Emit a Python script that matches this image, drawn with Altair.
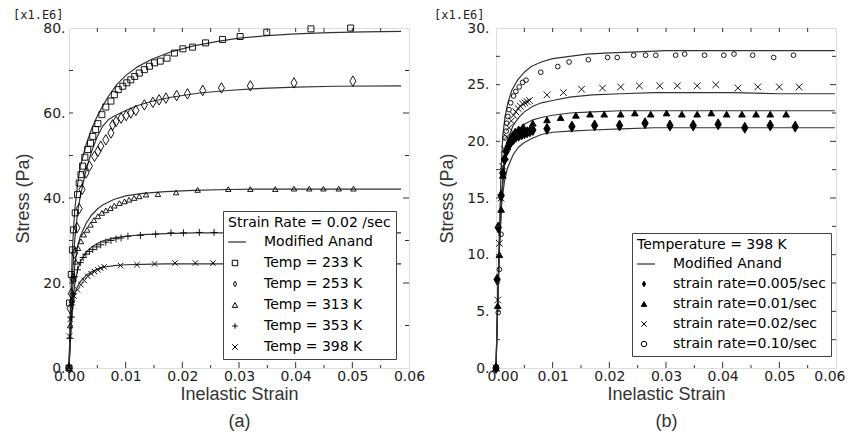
import altair as alt
import pandas as pd

# ---------------- Panel (a): strain rate 0.02 /sec, stress in MPa ----------------
a233_strain = [0, 0.0001, 0.0004, 0.0006, 0.0008, 0.0011, 0.0015, 0.0018, 0.0021, 0.0024, 0.0028, 0.0033,
               0.0038, 0.0042, 0.0047, 0.0051, 0.0058, 0.0065, 0.0074, 0.0080, 0.0087, 0.0095, 0.0102, 0.0109,
               0.0116, 0.0124, 0.0133, 0.0142, 0.0151, 0.0161, 0.0173, 0.0186, 0.0201, 0.0218, 0.0241, 0.0271,
               0.0302, 0.0349, 0.0427, 0.0497]
a233_stress = [0, 15.3, 22.0, 27.8, 32.5, 36.5, 40.8, 43.5, 45.5, 47.5, 49.6, 51.4,
               52.9, 54.5, 56.1, 57.5, 59.6, 61.4, 62.8, 64.3, 65.5, 66.3, 67.1, 67.8,
               68.6, 69.4, 70.2, 71.0, 71.8, 72.2, 72.9, 74.1, 75.1, 75.5, 76.5, 77.3,
               78.0, 79.0, 79.8, 80.0]
a253_strain = [0, 0.0002, 0.0004, 0.0007, 0.0010, 0.0014, 0.0018, 0.0023, 0.0030, 0.0036, 0.0045, 0.0051,
               0.0056, 0.0065, 0.0074, 0.0077, 0.0083, 0.0092, 0.0101, 0.0109, 0.0118, 0.0133, 0.0148, 0.0159,
               0.0171, 0.0190, 0.0209, 0.0236, 0.0269, 0.0320, 0.0397, 0.0501]
a253_stress = [0, 14, 17.5, 21, 27, 33, 37.5, 42, 45.9, 47.5, 49.8, 51.0,
               52.2, 53.7, 55.3, 57.2, 58.0, 58.8, 59.4, 60.0, 60.6, 61.9, 62.5, 63.1,
               63.5, 64.1, 64.5, 65.3, 65.9, 66.4, 67.1, 67.5]
a313_strain = [0, 0.0002, 0.0005, 0.0008, 0.0012, 0.0016, 0.0021, 0.0026, 0.0032, 0.0038, 0.0044, 0.0051,
               0.0058, 0.0065, 0.0073, 0.0080, 0.0089, 0.0098, 0.0106, 0.0115, 0.0124, 0.0136, 0.0157, 0.0189,
               0.0227, 0.0281, 0.0320, 0.0364, 0.0397, 0.0424, 0.0449, 0.0476, 0.0502]
a313_stress = [0, 10, 16, 21, 25, 28.2, 29.8, 31.4, 32.5, 33.7, 34.8, 35.7,
               36.5, 37.1, 37.6, 38.2, 38.8, 39.2, 39.6, 40.0, 40.4, 40.8, 40.9, 41.3,
               41.9, 42.1, 42.1, 42.1, 42.2, 42.2, 42.2, 42.2, 42.2]
a353_strain = [0, 0.0002, 0.0004, 0.0007, 0.0010, 0.0015, 0.0020, 0.0025, 0.0030, 0.0036, 0.0042, 0.0049,
               0.0056, 0.0065, 0.0074, 0.0083, 0.0092, 0.0104, 0.0126, 0.0153, 0.0180, 0.0202, 0.0230, 0.0256]
a353_stress = [0, 7, 12, 17.5, 21.5, 23.1, 24.8, 26.0, 26.8, 27.4, 27.9, 28.5,
               29.0, 29.6, 30.0, 30.4, 30.6, 31.0, 31.2, 31.5, 31.8, 31.8, 31.9, 31.9]
a398_strain = [0, 0.0001, 0.0002, 0.0006, 0.0009, 0.0015, 0.0021, 0.0027, 0.0033, 0.0039, 0.0045, 0.0051,
               0.0056, 0.0062, 0.0091, 0.0120, 0.0151, 0.0187, 0.0223, 0.0254]
a398_stress = [0, 7.5, 11.4, 15.3, 16.9, 18.4, 19.6, 20.6, 21.6, 22.2, 22.7, 23.1,
               23.5, 23.8, 24.1, 24.3, 24.5, 24.7, 24.7, 24.7]

# Modified Anand model curves, panel (a)
am233_strain = [0, 0.0003, 0.0006, 0.001, 0.0015, 0.002, 0.003, 0.004, 0.005, 0.006, 0.007, 0.0085,
                0.010, 0.012, 0.0145, 0.018, 0.022, 0.026, 0.030, 0.035, 0.040, 0.046, 0.052, 0.0586]
am233_stress = [0, 16, 28, 37, 43, 47.5, 52.5, 56.3, 59.3, 61.8, 64.0, 66.8,
                68.8, 70.8, 72.6, 74.4, 75.8, 76.8, 77.6, 78.2, 78.6, 78.9, 79.1, 79.2]
am253_strain = [0, 0.0003, 0.0006, 0.001, 0.0015, 0.002, 0.003, 0.004, 0.005, 0.006, 0.007,
                0.008, 0.010, 0.012, 0.0145, 0.018, 0.023, 0.028, 0.034, 0.040, 0.047, 0.0586]
am253_stress = [0, 14, 22, 30, 36.5, 40.5, 46.5, 51, 54.5, 57, 58.5,
                59.3, 60.6, 61.7, 62.7, 63.7, 64.7, 65.3, 65.8, 66.1, 66.3, 66.4]
am_strain = [0, 0.0003, 0.0006, 0.001, 0.0015, 0.002, 0.003, 0.004, 0.005, 0.006, 0.008, 0.010,
             0.013, 0.017, 0.022, 0.028, 0.035, 0.045, 0.0586]
am313_stress = [0, 11, 18, 24, 28.5, 31, 34, 36, 37.4, 38.4, 39.7, 40.5,
                41.1, 41.5, 41.8, 42.0, 42.1, 42.1, 42.1]
am353_stress = [0, 8, 14, 19.5, 23, 25, 27.2, 28.5, 29.3, 29.9, 30.6, 31.0,
                31.4, 31.6, 31.8, 31.8, 31.8, 31.8, 31.8]
am398_stress = [0, 8, 13.5, 17.5, 19.2, 20.3, 21.8, 22.7, 23.3, 23.7, 24.1, 24.3,
                24.4, 24.5, 24.5, 24.5, 24.5, 24.5, 24.5]

# ---------------- Panel (b): temperature 398 K, stress in MPa ----------------
b005_strain = [0, 0.0002, 0.0004, 0.0009, 0.0012, 0.0015, 0.0018, 0.0021, 0.0024, 0.0027, 0.0031, 0.0035,
               0.0040, 0.0045, 0.0050, 0.0055, 0.0060, 0.0065, 0.0090, 0.0134, 0.0174, 0.0218, 0.0263,
               0.0307, 0.0348, 0.0392, 0.0439, 0.0484, 0.0528]
b005_stress = [0, 7.8, 12.4, 15.2, 17.2, 18.4, 19.1, 19.5, 19.8, 20.0, 20.2, 20.4,
               20.5, 20.6, 20.7, 20.8, 20.9, 21.0, 21.1, 21.3, 21.4, 21.4, 21.6,
               21.4, 21.4, 21.5, 21.2, 21.4, 21.3]
b01_strain = [0, 0.0003, 0.0006, 0.0009, 0.0012, 0.0016, 0.0020, 0.0024, 0.0029, 0.0034, 0.0040, 0.0048,
              0.0065, 0.0090, 0.0114, 0.0141, 0.0166, 0.0191, 0.0220, 0.0245, 0.0273, 0.0301, 0.0328,
              0.0355, 0.0380, 0.0407, 0.0434, 0.0459, 0.0484, 0.0512]
b01_stress = [0, 5.5, 10, 14, 17, 18.6, 19.5, 20.1, 20.6, 20.9, 21.1, 21.3,
              21.6, 21.9, 22.1, 22.3, 22.4, 22.4, 22.4, 22.5, 22.4, 22.5, 22.4,
              22.4, 22.5, 22.4, 22.4, 22.4, 22.4, 22.4]
b02_strain = [0, 0.0003, 0.0006, 0.0009, 0.0012, 0.0015, 0.0019, 0.0023, 0.0027, 0.0031, 0.0035, 0.0039,
              0.0043, 0.0047, 0.0051, 0.0055, 0.0059, 0.0090, 0.0119, 0.0151, 0.0188, 0.0220, 0.0253,
              0.0289, 0.0320, 0.0355, 0.0388, 0.0427, 0.0462, 0.0500, 0.0535]
b02_stress = [0, 6, 11, 15, 17.8, 19.3, 20.4, 21.2, 21.8, 22.3, 22.6, 22.9,
              23.1, 23.3, 23.4, 23.5, 23.6, 24.1, 24.3, 24.6, 24.7, 24.8, 24.9,
              24.9, 24.9, 24.9, 25.0, 24.7, 24.8, 24.8, 24.8]
b10_strain = [0, 0.0004, 0.0006, 0.0009, 0.0016, 0.0018, 0.0019, 0.0021, 0.0023, 0.0026, 0.0031, 0.0035,
              0.0041, 0.0047, 0.0053, 0.0079, 0.0109, 0.0129, 0.0163, 0.0197, 0.0214, 0.0243, 0.0264,
              0.0282, 0.0317, 0.0333, 0.0368, 0.0402, 0.0420, 0.0453, 0.0490, 0.0525]
b10_stress = [0, 4.9, 8.7, 11.8, 20.3, 20.9, 21.6, 22.2, 22.8, 23.4, 24.0, 24.4,
              24.8, 25.2, 25.4, 26.1, 26.6, 27.0, 27.2, 27.4, 27.4, 27.6, 27.6,
              27.6, 27.6, 27.7, 27.6, 27.6, 27.7, 27.6, 27.4, 27.6]

# Modified Anand model curves, panel (b)
bm_strain = [0, 0.0003, 0.0006, 0.001, 0.0015, 0.002, 0.003, 0.004, 0.005, 0.0065, 0.008, 0.010,
             0.013, 0.017, 0.022, 0.028, 0.035, 0.042, 0.050, 0.0598]
bm005_stress = [0, 5.5, 10.5, 14.5, 16.5, 17.6, 18.8, 19.5, 19.9, 20.3, 20.6, 20.8,
                20.9, 21.0, 21.1, 21.2, 21.2, 21.2, 21.2, 21.2]
bm01_stress = [0, 5.5, 10.5, 15, 17.8, 19.3, 20.5, 21.1, 21.5, 21.9, 22.1, 22.3,
               22.5, 22.6, 22.7, 22.7, 22.7, 22.7, 22.7, 22.7]
bm02_stress = [0, 6, 11, 15.5, 18.5, 20, 21.4, 22.1, 22.6, 23.1, 23.4, 23.6,
               23.9, 24.1, 24.2, 24.3, 24.3, 24.3, 24.2, 24.2]
bm10_strain = [0, 0.0003, 0.0006, 0.0009, 0.0012, 0.0016, 0.0021, 0.0028, 0.0038, 0.005, 0.0062, 0.008,
               0.010, 0.013, 0.016, 0.020, 0.025, 0.030, 0.040, 0.050, 0.0598]
bm10_stress = [0, 6, 12, 17.5, 20.5, 22.2, 23.4, 24.5, 25.4, 26.1, 26.6, 27.0,
               27.3, 27.5, 27.7, 27.8, 27.9, 28.0, 28.0, 28.0, 28.0]

# axis values / ticks
a_y_labels = [0, 20, 40, 60, 80]
a_y_ticks_major = [20, 40, 60]
a_y_ticks_minor = [10, 30, 50, 70]
b_y_labels = [0, 5, 10, 15, 20, 25, 30]
b_y_ticks_major = [5, 10, 15, 20, 25]
b_y_ticks_minor = [2.5, 7.5, 12.5, 17.5, 22.5, 27.5]
x_labels = [0.0, 0.01, 0.02, 0.03, 0.04, 0.05, 0.06]
x_ticks_major = [0.01, 0.02, 0.03, 0.04, 0.05]
x_ticks_minor = [0.005, 0.015, 0.025, 0.035, 0.045, 0.055]

a_series = ["Modified Anand", "Temp = 233 K", "Temp = 253 K", "Temp = 313 K", "Temp = 353 K", "Temp = 398 K"]
b_series = ["Modified Anand", "strain rate=0.005/sec", "strain rate=0.01/sec",
            "strain rate=0.02/sec", "strain rate=0.10/sec"]

W = 340
H = 340
LINE_COLOR = "#333333"


def to_df(groups, sizes=None):
    rows = []
    for name, xs, ys in groups:
        for x, y in zip(xs, ys):
            r = {"series": name, "strain": x, "stress": y}
            if sizes is not None:
                r["sz"] = sizes[name]
            rows.append(r)
    return pd.DataFrame(rows)


def tick_layers(ymaj, ymin, xdom, ydom):
    xsc = alt.Scale(domain=xdom, nice=False, zero=False)
    ysc = alt.Scale(domain=ydom, nice=False, zero=False)
    all_x = pd.DataFrame({"v": x_ticks_major + x_ticks_minor})
    all_y = pd.DataFrame({"v": ymaj + ymin})
    rule = dict(color="#333", strokeWidth=1)
    return [
        alt.Chart(pd.DataFrame({"v": x_ticks_major})).mark_rule(**rule).encode(
            x=alt.X("v:Q", scale=xsc), y=alt.value(H), y2=alt.value(H - 6)),
        alt.Chart(pd.DataFrame({"v": x_ticks_minor})).mark_rule(**rule).encode(
            x=alt.X("v:Q", scale=xsc), y=alt.value(H), y2=alt.value(H - 3)),
        alt.Chart(all_x).mark_rule(**rule).encode(
            x=alt.X("v:Q", scale=xsc), y=alt.value(0), y2=alt.value(4)),
        alt.Chart(all_y).mark_rule(**rule).encode(
            y=alt.Y("v:Q", scale=ysc), x=alt.value(0), x2=alt.value(4)),
        alt.Chart(pd.DataFrame({"v": ymaj})).mark_rule(**rule).encode(
            y=alt.Y("v:Q", scale=ysc), x=alt.value(W), x2=alt.value(W - 6)),
        alt.Chart(pd.DataFrame({"v": ymin})).mark_rule(**rule).encode(
            y=alt.Y("v:Q", scale=ysc), x=alt.value(W), x2=alt.value(W - 4)),
    ]


def panel(points, lines, series, shapes, fills, ydom, ylabels, ymaj, ymin, legend_title,
          lx, ly_, row_pad, caption, label_pad, mult_dx, flush_x):
    xdom = [0, 0.06]
    xsc = alt.Scale(domain=xdom, nice=False, zero=False)
    ysc = alt.Scale(domain=ydom, nice=False, zero=False)
    xaxis_kw = dict(values=x_labels, format=".2f", ticks=False, domain=False, grid=False,
                    labelFont="DejaVu Sans", labelFontSize=14, labelColor="#222", labelPadding=1,
                    labelOverlap=False,
                    title=["Inelastic Strain", caption], titleFont="Liberation Sans", titleFontSize=18,
                    titleFontWeight="normal", titleColor="#333", titlePadding=2, titleLineHeight=27)
    if flush_x:
        xaxis_kw.update(labelFlush=True, labelFlushOffset=9)
    else:
        xaxis_kw.update(labelFlush=False)
    xaxis = alt.Axis(**xaxis_kw)
    yaxis = alt.Axis(values=ylabels, labelExpr="datum.value + '.'", ticks=False, domain=False, grid=False,
                     labelFont="DejaVu Sans", labelFontSize=14, labelColor="#222", labelPadding=label_pad,
                     labelFlush=False, labelOverlap=False,
                     title="Stress (Pa)", titleFont="Liberation Sans", titleFontSize=18,
                     titleFontWeight="normal", titleColor="#333", titlePadding=10)
    legend = alt.Legend(orient="none", legendX=lx, legendY=ly_, title=legend_title,
                        fillColor="white", strokeColor="#444", padding=5, cornerRadius=0,
                        titleFont="DejaVu Sans", titleFontSize=14, titleFontWeight="normal",
                        titleColor="black", titlePadding=5, titleLimit=400,
                        labelFont="DejaVu Sans", labelFontSize=14, labelColor="black",
                        labelOffset=22, labelLimit=400, rowPadding=row_pad,
                        symbolSize=30, symbolStrokeWidth=1)
    line_layer = alt.Chart(lines).mark_line(color=LINE_COLOR, strokeWidth=1.2).encode(
        x=alt.X("strain:Q", scale=xsc, axis=xaxis),
        y=alt.Y("stress:Q", scale=ysc, axis=yaxis),
        detail="series:N",
        order="strain:Q",
    )
    point_layer = alt.Chart(points).mark_point(filled=False, strokeWidth=0.9, opacity=1).encode(
        x=alt.X("strain:Q", scale=xsc),
        y=alt.Y("stress:Q", scale=ysc),
        shape=alt.Shape("series:N", scale=alt.Scale(domain=series, range=shapes), legend=legend),
        fill=alt.Fill("series:N", scale=alt.Scale(domain=series, range=fills), legend=legend),
        stroke=alt.Stroke("series:N", scale=alt.Scale(domain=series, range=["black"] * len(series)),
                          legend=legend),
        size=alt.Size("sz:Q", scale=None),
    )
    mult = alt.Chart(pd.DataFrame({"t": ["[x1.E6]"]})).mark_text(
        align="left", baseline="alphabetic", font="DejaVu Sans Mono", fontSize=12, color="#222"
    ).encode(text="t:N", x=alt.value(mult_dx), y=alt.value(-9))
    ticks = tick_layers(ymaj, ymin, xdom, ydom)
    return alt.layer(line_layer, point_layer, mult, *ticks).properties(width=W, height=H)


a_sizes = {"Temp = 233 K": 36, "Temp = 253 K": 110, "Temp = 313 K": 30, "Temp = 353 K": 49, "Temp = 398 K": 30}
b_sizes = {"strain rate=0.005/sec": 121, "strain rate=0.01/sec": 45, "strain rate=0.02/sec": 45,
           "strain rate=0.10/sec": 22}

a_points = to_df([
    ("Temp = 233 K", a233_strain, a233_stress),
    ("Temp = 253 K", a253_strain, a253_stress),
    ("Temp = 313 K", a313_strain, a313_stress),
    ("Temp = 353 K", a353_strain, a353_stress),
    ("Temp = 398 K", a398_strain, a398_stress),
], a_sizes)
a_lines = to_df([
    ("233", am233_strain, am233_stress),
    ("253", am253_strain, am253_stress),
    ("313", am_strain, am313_stress),
    ("353", am_strain, am353_stress),
    ("398", am_strain, am398_stress),
])
b_points = to_df([
    ("strain rate=0.005/sec", b005_strain, b005_stress),
    ("strain rate=0.01/sec", b01_strain, b01_stress),
    ("strain rate=0.02/sec", b02_strain, b02_stress),
    ("strain rate=0.10/sec", b10_strain, b10_stress),
], b_sizes)
b_lines = to_df([
    ("0.005", bm_strain, bm005_stress),
    ("0.01", bm_strain, bm01_stress),
    ("0.02", bm_strain, bm02_stress),
    ("0.10", bm10_strain, bm10_stress),
])

LEG_LINE = "M-2.5,0L4,0"
PLUS = "M-1,0L1,0M0,-1L0,1"
XMARK = "M-1,-1L1,1M-1,1L1,-1"
TALL_DIAMOND = "M0,-1L0.58,0L0,1L-0.58,0Z"

left = panel(a_points, a_lines, a_series,
             [LEG_LINE, "square", TALL_DIAMOND, "triangle-up", PLUS, XMARK],
             ["transparent"] * 6,
             [0, 80], a_y_labels, a_y_ticks_major, a_y_ticks_minor,
             "Strain Rate = 0.02 /sec", 154, 183, 7, "(a)", 4, -56, False)
right = panel(b_points, b_lines, b_series,
              [LEG_LINE, TALL_DIAMOND, "triangle-up", XMARK, "circle"],
              ["transparent", "black", "black", "transparent", "transparent"],
              [0, 30], b_y_labels, b_y_ticks_major, b_y_ticks_minor,
              "Temperature = 398 K", 136, 205, 6, "(b)", 7, -62, True)

chart = alt.hconcat(left, right, spacing=87, bounds="flush").resolve_scale(
    x="independent", y="independent", shape="independent", fill="independent", stroke="independent"
).properties(
    padding={"left": 4, "top": 0, "right": 0, "bottom": 0}
).configure_view(stroke="#444", strokeWidth=1).configure(background="white")

chart.save("out.html", embed_options={"renderer": "svg", "actions": False})
